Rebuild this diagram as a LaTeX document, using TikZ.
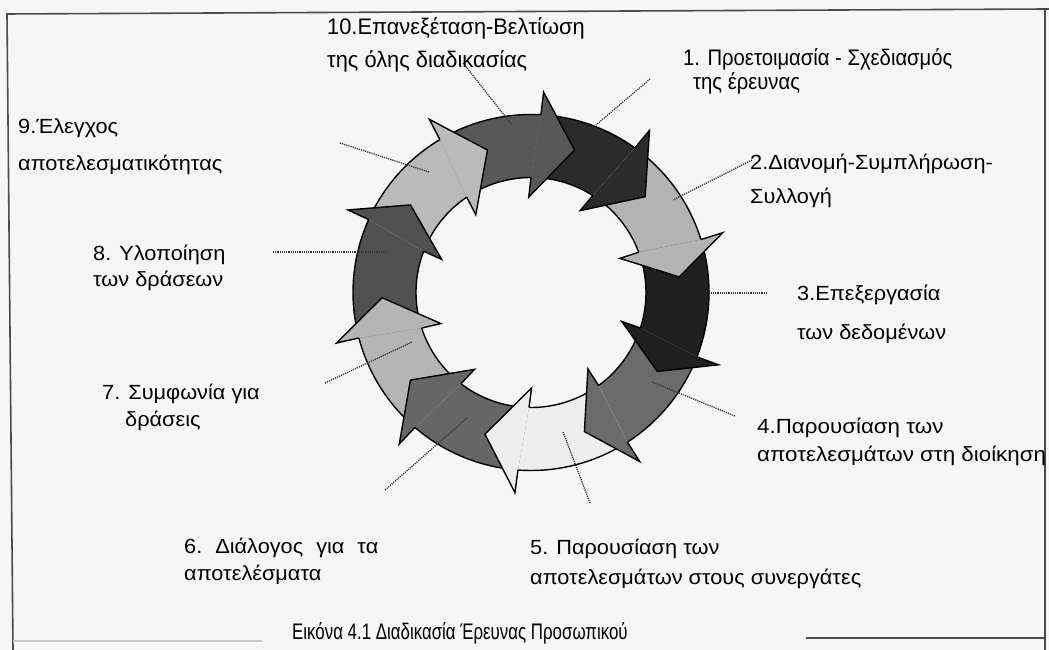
\documentclass[tikz,border=0pt]{standalone}
\usepackage{fontspec}
\setmainfont{Liberation Sans}
\newfontfamily\wideface[FakeStretch=1.06]{Liberation Sans}
\newfontfamily\widerface[FakeStretch=1.09]{Liberation Sans}
\newfontfamily\narrowfont[FakeStretch=0.9]{Liberation Sans}
\newfontfamily\tallfont[FakeStretch=0.97]{Liberation Sans}
\newfontfamily\captionface[FakeStretch=0.75]{Liberation Sans}
\usetikzlibrary{calc}

\definecolor{paper}{HTML}{F6F6F6}
\definecolor{framegray}{HTML}{4A4A4A}
\definecolor{leadgray}{HTML}{333333}
\definecolor{ar1}{HTML}{2B2B2B}
\definecolor{ar2}{HTML}{B3B3B3}
\definecolor{ar3}{HTML}{202020}
\definecolor{ar4}{HTML}{6B6B6B}
\definecolor{ar5}{HTML}{EDEDED}
\definecolor{ar6}{HTML}{666666}
\definecolor{ar7}{HTML}{B5B5B5}
\definecolor{ar8}{HTML}{505050}
\definecolor{ar9}{HTML}{BABABA}
\definecolor{ar10}{HTML}{585858}

\begin{document}
\begin{tikzpicture}[x=1pt,y=1pt,
  outline/.style={draw=black,line width=1.4pt},
  leader/.style={draw=leadgray,line width=1.3pt,dash pattern=on 1.2pt off 1pt},
  lbl/.style={anchor=base west,inner sep=0pt,font=\wideface\fontsize{20.5}{24}\selectfont},
  wlbl/.style={anchor=base west,inner sep=0pt,font=\widerface\fontsize{20.5}{24}\selectfont},
  nlbl/.style={anchor=base west,inner sep=0pt,font=\narrowfont\fontsize{22.5}{26}\selectfont},
  tlbl/.style={anchor=base west,inner sep=0pt,font=\tallfont\fontsize{22.5}{26}\selectfont},
  caplbl/.style={anchor=base west,inner sep=0pt,font=\captionface\fontsize{22.5}{26}\selectfont},
  framestroke/.style={draw=framegray,line width=1.6pt}]

\useasboundingbox (0,0) rectangle (1049,650);
\fill[paper] (0,0) rectangle (1049,650);

% frame
\coordinate (fTL) at (7,636);
\coordinate (fTR) at (1049,641);
\coordinate (fBL) at (13,0);
\coordinate (fRT) at (1045,641);
\coordinate (fRB) at (1045,0);
\coordinate (fBa) at (806,12);
\coordinate (fBb) at (1045,12);
\coordinate (fLa) at (13,9);
\coordinate (fLb) at (262,9);
\draw[framestroke] (fBL) -- (fTL) -- (fTR);
\draw[draw=framegray,line width=1.2pt] (fRT) -- (fRB);
\draw[draw=framegray,line width=1.4pt] (fBa) -- (fBb);
\draw[draw=gray!45,line width=1.2pt] (fLa) -- (fLb);

% cycle of ten curved arrows
\begin{scope}[shift={(531,357.5)}]
  % arrow bodies
  \foreach \pa/\b/\c in {88/55.5/ar1, 55.5/18.5/ar2, 18.5/-20/ar3, -20/-56/ar4,
      -56/-93/ar5, -93/-129.5/ar6, -129.5/-164/ar7, -164/-203/ar8,
      -203/-238/ar9, -238/-272/ar10}{
    \fill[\c] ({\pa-1.2}:178pt) arc[start angle={\pa-1.2}, end angle={\b-1.2}, radius=178pt]
      -- ({\b+2}:115pt) arc[start angle={\b+2}, end angle={\pa+2}, radius=115pt] -- cycle;
    \draw[outline] ({\pa-1.2}:178pt) arc[start angle={\pa-1.2}, end angle={\b-1.2}, radius=178pt];
    \draw[outline] ({\b+2}:115pt) arc[start angle={\b+2}, end angle={\pa+2}, radius=115pt];
  }
  % arrow heads
  \foreach \b/\t/\c [count=\i] in {55.5/40/ar1, 18.5/6/ar2, -20/-32/ar3, -56/-69/ar4,
      -93/-108/ar5, -129.5/-144/ar6, -164/-178/ar7, -203/-216/ar8,
      -238/-253/ar9, -272/-287/ar10}{
    \coordinate (M\i) at (\b:148pt);
    \coordinate (T\i) at (\t:149pt);
    \coordinate (BO\i) at ($(M\i)!53pt!90:(T\i)$);
    \coordinate (BI\i) at ($(M\i)!53pt!-90:(T\i)$);
    \fill[\c] ({\b-1.2}:178pt) -- (BO\i) -- (T\i) -- (BI\i) -- ({\b+2}:115pt) -- cycle;
    \draw[outline] ({\b-1.2}:178pt) -- (BO\i) -- (T\i) -- (BI\i) -- ({\b+2}:115pt);
  }
\end{scope}

% leader lines
\coordinate (q10a) at (463,587); \coordinate (q10b) at (512,525);
\coordinate (q1a) at (650,571);  \coordinate (q1b) at (596,525);
\coordinate (q2a) at (752,490);  \coordinate (q2b) at (673,450);
\coordinate (q3a) at (767,357);  \coordinate (q3b) at (708,357);
\coordinate (q4a) at (735,234);  \coordinate (q4b) at (652,268);
\coordinate (q5a) at (590,147);  \coordinate (q5b) at (563,218);
\coordinate (q6a) at (385,160);  \coordinate (q6b) at (467,232);
\coordinate (q7a) at (325,267);  \coordinate (q7b) at (412,308);
\coordinate (q8a) at (273,398);  \coordinate (q8b) at (386,398);
\coordinate (q9a) at (340,507);  \coordinate (q9b) at (429,478);
\foreach \k in {10,1,2,3,4,5,6,7,8,9}{\draw[leader] (q\k a) -- (q\k b);}

% labels
\node[tlbl] (t10a) at (327,615) {10.Επανεξέταση-Βελτίωση};
\node[tlbl] (t10b) at (327,582) {της όλης διαδικασίας};
\node[nlbl] (t1a) at (683,584) {1. Προετοιμασία - Σχεδιασμός};
\node[nlbl] (t1b) at (693,560) {της έρευνας};
\node[lbl] (t9a) at (18,516) {9.Έλεγχος};
\node[lbl] (t9b) at (18,479) {αποτελεσματικότητας};
\node[lbl] (t2a) at (750,480) {2.Διανομή-Συμπλήρωση-};
\node[lbl] (t2b) at (750,446) {Συλλογή};
\node[lbl] (t8a) at (93,389) {8. Υλοποίηση};
\node[lbl] (t8b) at (93,363) {των δράσεων};
\node[lbl] (t3a) at (797,349) {3.Επεξεργασία};
\node[lbl] (t3b) at (797,310) {των δεδομένων};
\node[lbl] (t7a) at (102,250) {7. Συμφωνία για};
\node[lbl] (t7b) at (125,223) {δράσεις};
\node[wlbl] (t4a) at (757,216) {4.Παρουσίαση των};
\node[wlbl] (t4b) at (757,188) {αποτελεσμάτων στη διοίκηση};
\node[lbl] (t6a) at (184,96) {6.\hspace{13pt}Διάλογος\hspace{13pt}για\hspace{13pt}τα};
\node[lbl] (t6b) at (184,69) {αποτελέσματα};
\node[lbl] (t5a) at (530,95) {5. Παρουσίαση των};
\node[lbl] (t5b) at (530,65) {αποτελεσμάτων στους συνεργάτες};
\node[caplbl] (cap) at (292,10) {Εικόνα 4.1 Διαδικασία Έρευνας Προσωπικού};

\end{tikzpicture}
\end{document}
